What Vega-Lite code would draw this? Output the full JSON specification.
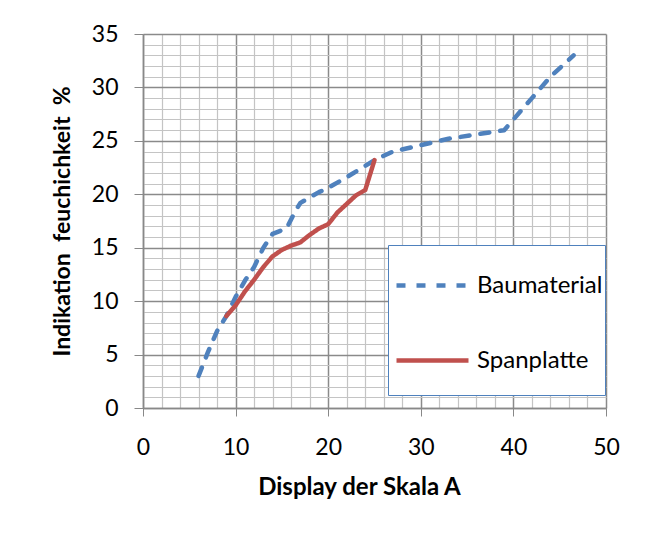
{
  "$schema": "https://vega.github.io/schema/vega-lite/v6.json",
  "autosize": "none",
  "padding": {"left": 143, "top": 34, "right": 45, "bottom": 141},
  "width": 463,
  "height": 374,
  "background": "white",
  "config": {
    "font": "Lato",
    "view": {"stroke": null}
  },
  "data": {
    "values": [
      {"x": 6, "y": 3, "s": "Baumaterial"},
      {"x": 7, "y": 5.2, "s": "Baumaterial"},
      {"x": 8, "y": 7.2, "s": "Baumaterial"},
      {"x": 9, "y": 8.6, "s": "Baumaterial"},
      {"x": 10, "y": 10.4, "s": "Baumaterial"},
      {"x": 11, "y": 11.9, "s": "Baumaterial"},
      {"x": 12, "y": 13.2, "s": "Baumaterial"},
      {"x": 13, "y": 15, "s": "Baumaterial"},
      {"x": 14, "y": 16.3, "s": "Baumaterial"},
      {"x": 15.5, "y": 16.8, "s": "Baumaterial"},
      {"x": 16.5, "y": 18.5, "s": "Baumaterial"},
      {"x": 17, "y": 19.2, "s": "Baumaterial"},
      {"x": 19, "y": 20.2, "s": "Baumaterial"},
      {"x": 20, "y": 20.6, "s": "Baumaterial"},
      {"x": 22, "y": 21.6, "s": "Baumaterial"},
      {"x": 25, "y": 23.2, "s": "Baumaterial"},
      {"x": 27, "y": 24, "s": "Baumaterial"},
      {"x": 30, "y": 24.6, "s": "Baumaterial"},
      {"x": 33, "y": 25.2, "s": "Baumaterial"},
      {"x": 36, "y": 25.6, "s": "Baumaterial"},
      {"x": 39, "y": 26, "s": "Baumaterial"},
      {"x": 40, "y": 27, "s": "Baumaterial"},
      {"x": 42, "y": 29, "s": "Baumaterial"},
      {"x": 44, "y": 31, "s": "Baumaterial"},
      {"x": 46.5, "y": 33, "s": "Baumaterial"},
      {"x": 9, "y": 8.6, "s": "Spanplatte"},
      {"x": 10, "y": 9.6, "s": "Spanplatte"},
      {"x": 11, "y": 10.9, "s": "Spanplatte"},
      {"x": 12, "y": 12, "s": "Spanplatte"},
      {"x": 13, "y": 13.2, "s": "Spanplatte"},
      {"x": 14, "y": 14.2, "s": "Spanplatte"},
      {"x": 15, "y": 14.8, "s": "Spanplatte"},
      {"x": 16, "y": 15.2, "s": "Spanplatte"},
      {"x": 17, "y": 15.5, "s": "Spanplatte"},
      {"x": 18, "y": 16.2, "s": "Spanplatte"},
      {"x": 19, "y": 16.8, "s": "Spanplatte"},
      {"x": 20, "y": 17.2, "s": "Spanplatte"},
      {"x": 21, "y": 18.3, "s": "Spanplatte"},
      {"x": 22, "y": 19.1, "s": "Spanplatte"},
      {"x": 23, "y": 19.9, "s": "Spanplatte"},
      {"x": 24, "y": 20.4, "s": "Spanplatte"},
      {"x": 25, "y": 23.2, "s": "Spanplatte"}
    ]
  },
  "mark": {"type": "line", "strokeWidth": 4.5, "strokeCap": "round", "strokeJoin": "round"},
  "encoding": {
    "x": {
      "field": "x", "type": "quantitative",
      "scale": {"domain": [0, 50], "nice": false},
      "axis": {
        "title": "Display der Skala A",
        "titleFont": "Lato", "titleFontSize": 24, "titleFontWeight": "bold", "titleColor": "#000",
        "titlePadding": 16,
        "titleX": 216,
        "values": [0,2,4,6,8,10,12,14,16,18,20,22,24,26,28,30,32,34,36,38,40,42,44,46,48,50],
        "labelExpr": "datum.value % 10 === 0 ? datum.label : ''",
        "labelFontSize": 23, "labelColor": "#000", "labelPadding": 20, "labelFlush": false,
        "tickSize": 8,
        "tickColor": "#888",
        "tickOpacity": {"condition": {"test": "datum.value % 10 === 0", "value": 1}, "value": 0},
        "domainColor": "#888", "domainWidth": 1.5,
        "grid": true,
        "gridColor": {"condition": {"test": "datum.value % 10 === 0", "value": "#8a8a8a"}, "value": "#c4c4c4"},
        "gridWidth": {"condition": {"test": "datum.value % 10 === 0", "value": 1.5}, "value": 1.2}
      }
    },
    "y": {
      "field": "y", "type": "quantitative",
      "scale": {"domain": [0, 35], "nice": false},
      "axis": {
        "title": "Indikation\u00a0 feuchichkeit\u00a0 %",
        "titleFont": "Lato", "titleFontSize": 23, "titleFontWeight": "bold", "titleColor": "#000",
        "titlePadding": 17,
        "values": [0,1,2,3,4,5,6,7,8,9,10,11,12,13,14,15,16,17,18,19,20,21,22,23,24,25,26,27,28,29,30,31,32,33,34,35],
        "labelExpr": "datum.value % 5 === 0 ? datum.label : ''",
        "labelFontSize": 23, "labelColor": "#000", "labelPadding": 16,
        "tickSize": 9,
        "tickColor": "#888",
        "tickOpacity": {"condition": {"test": "datum.value % 5 === 0", "value": 1}, "value": 0},
        "domainColor": "#888", "domainWidth": 1.5,
        "grid": true,
        "gridColor": {"condition": {"test": "datum.value % 5 === 0", "value": "#8a8a8a"}, "value": "#c4c4c4"},
        "gridWidth": {"condition": {"test": "datum.value % 5 === 0", "value": 1.5}, "value": 1.2}
      }
    },
    "color": {
      "field": "s", "type": "nominal",
      "scale": {"domain": ["Baumaterial", "Spanplatte"], "range": ["#4F81BD", "#C0504D"]},
      "legend": {
        "title": " ",
        "titleOrient": "bottom",
        "titleFontSize": 14,
        "titlePadding": 6,
        "orient": "none",
        "legendX": 245,
        "legendY": 211,
        "direction": "vertical",
        "fillColor": "white",
        "strokeColor": "#4F81BD",
        "padding": 2,
        "symbolOffset": 4,
        "symbolType": "stroke",
        "symbolSize": 5184,
        "symbolStrokeWidth": 4.5,
        "labelFontSize": 24,
        "labelColor": "#000",
        "labelOffset": 6,
        "rowPadding": 24
      }
    },
    "strokeDash": {
      "field": "s", "type": "nominal",
      "scale": {"domain": ["Baumaterial", "Spanplatte"], "range": [[9, 11], [1, 0]]}
    }
  }
}
